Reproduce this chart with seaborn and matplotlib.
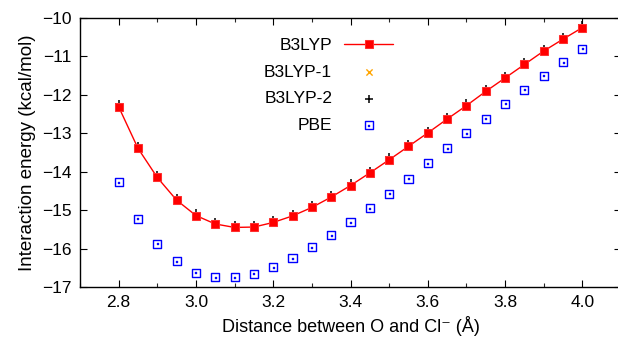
import numpy as np
import pandas as pd
import seaborn as sns
import matplotlib.pyplot as plt
from matplotlib.path import Path
from matplotlib.ticker import MultipleLocator

# Distances (Angstrom) and interaction energies (kcal/mol)
distance = [2.80, 2.85, 2.90, 2.95, 3.00, 3.05, 3.10, 3.15, 3.20, 3.25,
            3.30, 3.35, 3.40, 3.45, 3.50, 3.55, 3.60, 3.65, 3.70, 3.75,
            3.80, 3.85, 3.90, 3.95, 4.00]
b3lyp = [-12.31, -13.39, -14.15, -14.74, -15.14, -15.36, -15.45, -15.44, -15.32, -15.15,
         -14.93, -14.66, -14.36, -14.03, -13.69, -13.34, -12.99, -12.63, -12.28, -11.91,
         -11.56, -11.21, -10.86, -10.55, -10.25]
b3lyp_1 = [-12.31, -13.39, -14.15, -14.74, -15.14, -15.36, -15.45, -15.44, -15.32, -15.15,
           -14.93, -14.66, -14.36, -14.03, -13.69, -13.34, -12.99, -12.63, -12.28, -11.91,
           -11.56, -11.21, -10.86, -10.55, -10.25]
b3lyp_2 = [-12.25, -13.33, -14.09, -14.68, -15.08, -15.30, -15.39, -15.38, -15.26, -15.09,
           -14.87, -14.60, -14.30, -13.97, -13.63, -13.28, -12.93, -12.57, -12.22, -11.85,
           -11.50, -11.15, -10.80, -10.49, -10.19]
pbe = [-14.27, -15.22, -15.88, -16.33, -16.63, -16.75, -16.75, -16.66, -16.49, -16.25,
       -15.97, -15.65, -15.32, -14.95, -14.57, -14.18, -13.78, -13.39, -13.00, -12.62,
       -12.23, -11.87, -11.50, -11.15, -10.80]

df = pd.DataFrame({'d': distance, 'B3LYP': b3lyp, 'B3LYP-1': b3lyp_1,
                   'B3LYP-2': b3lyp_2, 'PBE': pbe})

sns.set_style('ticks')
plt.rcParams['font.family'] = ['Liberation Sans', 'DejaVu Sans']
plt.rcParams['text.color'] = 'black'
plt.rcParams['axes.labelcolor'] = 'black'

fig = plt.figure(figsize=(6.18, 3.43), dpi=100)
# right spine sits just past the image edge, as in the original
ax = fig.add_axes([80 / 618, 56 / 343, 541 / 618, 269 / 343])

# open square with a dot in the middle (gnuplot style)
sq = [(-1, -1), (1, -1), (1, 1), (-1, 1), (-1, -1)]
dot = [(-0.12, -0.12), (0.12, -0.12), (0.12, 0.12), (-0.12, 0.12), (-0.12, -0.12)]
codes = [Path.MOVETO, Path.LINETO, Path.LINETO, Path.LINETO, Path.CLOSEPOLY]
box_dot = Path(sq + dot, codes + codes)

sns.scatterplot(data=df, x='d', y='PBE', marker=box_dot, s=34, facecolors='none',
                edgecolor='#0000ff', linewidth=1.0, label='PBE', ax=ax)
sns.lineplot(data=df, x='d', y='B3LYP', color='#ff0000', linewidth=1.0, marker='s',
             markersize=6.3, markeredgecolor='#ff3030', label='B3LYP', ax=ax)
sns.scatterplot(data=df, x='d', y='B3LYP-1', marker='x', s=20, color='#ffa500',
                linewidth=1.0, label='B3LYP-1', ax=ax)
sns.scatterplot(data=df, x='d', y='B3LYP-2', marker='+', s=40, color='black',
                linewidth=1.1, label='B3LYP-2', ax=ax)

ax.set_xlim(2.7, 4.1)
ax.set_ylim(-17, -10)
ax.xaxis.set_major_locator(MultipleLocator(0.2))
ax.xaxis.set_minor_locator(MultipleLocator(0.1))
ax.yaxis.set_major_locator(MultipleLocator(1))
ax.xaxis.set_major_formatter(plt.FuncFormatter(lambda v, p: f'{v:.1f}'))
ax.yaxis.set_major_formatter(plt.FuncFormatter(lambda v, p: f'\u2212{abs(v):.0f}'))
ax.tick_params(direction='in', top=True, right=True, length=5, width=0.8,
               labelsize=12.5, colors='black', pad=6)
ax.tick_params(which='minor', direction='in', top=True, right=False, length=3, width=0.8)
for s in ax.spines.values():
    s.set_linewidth(1.0)
    s.set_color('black')

ax.set_xlabel('Distance between O and Cl\u207b (\u00c5)', fontsize=13)
ax.set_ylabel('Interaction energy (kcal/mol)', fontsize=13.5)

h, l = ax.get_legend_handles_labels()
order = [l.index(n) for n in ['B3LYP', 'B3LYP-1', 'B3LYP-2', 'PBE']]
ax.legend([h[i] for i in order], [l[i] for i in order], markerfirst=False,
          frameon=False, loc='upper right', bbox_to_anchor=(393 / 618, 1 - 38 / 343),
          bbox_transform=fig.transFigure, borderpad=0, borderaxespad=0,
          handlelength=2.8, handletextpad=0.7, labelspacing=0.66, fontsize=12.5)

plt.savefig('out.png', dpi=100)
plt.close()
